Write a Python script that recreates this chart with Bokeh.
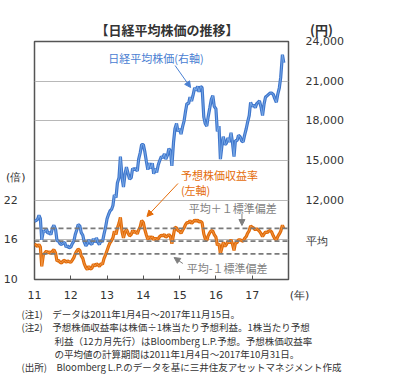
import pandas as pd
from bokeh.plotting import figure
from bokeh.models import (Range1d, LinearAxis, FixedTicker, Label, Arrow, NormalHead,
                          Span, NumeralTickFormatter, ColumnDataSource, Title)
from bokeh.embed import file_html
from bokeh.resources import INLINE

# ---------------- data (semi-monthly readings) ----------------
nikkei = [
    10400, 10450, 10550, 10850, 10600, 9000, 9700, 9600, 9850, 9500, 9550, 9400,
    9900, 10100, 9800, 8950, 8900, 8700, 8650, 8750, 8800, 8450, 8550, 8400,
    8450, 8700, 8900, 9400, 9750, 10150, 10050, 9550, 9350, 8850, 8550, 8700,
    9000, 8750, 8650, 9100, 8800, 9150, 8800, 8650, 8950, 8850, 9450, 9900,
    10600, 10900, 11200, 11300, 11600, 12400, 12200, 13300, 13700, 15300, 13700, 13000,
    14000, 14500, 14000, 13600, 13700, 14400, 14300, 14400, 14200, 15100, 15600, 16200,
    16200, 15700, 14900, 14300, 14800, 14400, 14800, 14000, 14400, 14100, 14700, 15000,
    15300, 15200, 15500, 15100, 15400, 15900, 15700, 14600, 16400, 17400, 17800, 17200,
    17400, 17000, 17600, 18000, 18700, 19300, 19300, 19800, 19500, 19900, 20500, 20300,
    20600, 20200, 20600, 20500, 18300, 17800, 17600, 18300, 19000, 19600, 19900, 19100,
    18900, 17200, 17600, 15100, 16100, 16800, 16200, 16300, 16700, 16400, 17100, 16400,
    15300, 16500, 16500, 16900, 16800, 16500, 16400, 16900, 17400, 17900, 18400, 19400,
    19100, 19200, 19000, 19300, 19400, 19500, 19000, 18400, 19300, 19800, 19900, 20000,
    20100, 20100, 20000, 19700, 19400, 20000, 20500, 21300, 23000, 22400,
]
per = [
    15.4, 15.2, 15.0, 15.3, 14.9, 12.0, 13.8, 14.0, 14.3, 14.0, 14.2, 13.9,
    14.3, 14.5, 14.0, 12.8, 12.9, 12.6, 12.5, 12.8, 12.9, 12.6, 12.8, 12.7,
    12.6, 12.9, 13.3, 13.9, 14.3, 14.6, 14.4, 13.6, 13.2, 12.4, 11.8, 11.5,
    12.0, 11.6, 11.7, 12.3, 12.0, 12.4, 12.2, 12.0, 12.4, 12.3, 13.2, 13.7,
    14.4, 15.0, 15.6, 15.9, 16.3, 17.3, 16.8, 17.8, 18.5, 19.4, 17.2, 16.3,
    17.2, 17.6, 17.0, 16.6, 16.8, 17.4, 17.1, 17.3, 16.9, 17.5, 18.0, 18.9,
    18.6, 17.6, 16.7, 16.1, 16.5, 16.2, 16.5, 16.0, 16.3, 16.0, 16.2, 16.5,
    16.7, 16.6, 16.8, 16.4, 16.6, 16.8, 16.5, 15.4, 16.8, 17.9, 17.8, 17.4,
    17.3, 17.0, 17.5, 17.8, 18.3, 18.6, 18.6, 18.9, 18.5, 18.7, 19.0, 18.8,
    19.0, 18.7, 18.8, 18.6, 16.9, 16.2, 15.9, 16.6, 17.1, 17.4, 17.3, 16.8,
    16.4, 15.2, 15.4, 13.9, 14.8, 15.6, 15.0, 15.3, 15.8, 15.5, 16.0, 15.4,
    14.4, 15.5, 15.6, 16.0, 16.0, 15.9, 15.8, 16.2, 16.5, 17.0, 17.4, 18.1,
    17.9, 17.8, 17.5, 17.7, 17.5, 17.3, 16.9, 16.5, 16.9, 17.2, 17.1, 17.3,
    17.4, 17.2, 16.6, 16.2, 16.0, 16.5, 16.9, 17.3, 18.2, 17.7,
]
per_mean = 15.8
per_sd = 1.93
year_ticks = [2011, 2012, 2013, 2014, 2015, 2016, 2017]
year_labels = ["11", "12", "13", "14", "15", "16", "17"]
left_ticks = [10, 16, 22]
right_ticks = [12000, 15000, 18000, 21000, 24000]
note_lines = [
    "(注1)\u3000データは2011年1月4日～2017年11月15日。",
    "(注2)\u3000予想株価収益率は株価÷1株当たり予想利益。1株当たり予想",
    "利益（12カ月先行）はBloomberg L.P.予想。予想株価収益率",
    "の平均値の計算期間は2011年1月4日～2017年10月31日。",
    "(出所)\u3000Bloomberg L.P.のデータを基に三井住友アセットマネジメント作成",
]
note_x = [21, 21, 54, 54, 21]
note_gap = [4, -9, 4, -9, 2]

dates = pd.date_range("2011-01-01", periods=len(nikkei), freq="SMS")
xs = [d.year + (d.dayofyear - 1) / 365.25 for d in dates]
src = ColumnDataSource(dict(x=xs, nikkei=nikkei, per=per))

JP = "Noto Sans CJK JP"
NUM = "DejaVu Sans"
TXT = "#333333"
BLUE = "#4a80d2"
ORANGE = "#e46c0a"
GRAY = "#7f7f7f"

W, H = 378, 376
FL, FR, FT, FB = 26, 288, 41, 279   # frame in canvas px

p = figure(width=W, height=H, output_backend="svg", toolbar_location=None,
           x_range=Range1d(2011, 2018), y_range=Range1d(10, 46),
           min_border_left=FL, min_border_right=W - FR,
           min_border_top=FT, min_border_bottom=H - FB)
p.outline_line_color = "#555555"
p.outline_line_width = 1.5
p.extra_y_ranges = {"yen": Range1d(6000, 24000)}

# title (with the right-axis unit on the same line)
p.title.text = "【日経平均株価の推移】" + "\u3000" * 6 + "(円)"
p.title.align = "left"
p.title.offset = 61
p.title.standoff = 6
p.title.text_font = JP
p.title.text_font_size = "13px"
p.title.text_font_style = "bold"
p.title.text_color = TXT

# notes below the chart, one title per line
for line, nx, gap in zip(note_lines, note_x, note_gap):
    p.add_layout(Title(text=line, align="left", offset=nx - 34,
                       standoff=gap, vertical_align="top",
                       text_font=JP, text_font_size="9.5px", text_font_style="normal",
                       text_color=TXT), "below")

# x axis
x_over = {t: l for t, l in zip(year_ticks, year_labels)}
x_over[2018] = "\u3000\u3000(年)"
p.xaxis.ticker = FixedTicker(ticks=year_ticks + [2018])
p.xaxis.major_label_overrides = x_over
p.xaxis.axis_line_color = None
p.xaxis.major_tick_in = 4
p.xaxis.major_tick_out = 0
p.xaxis.major_tick_line_color = "#555555"
p.xaxis.minor_tick_line_color = None
p.xaxis.major_label_standoff = 9
p.xaxis.major_label_text_font = NUM
p.xaxis.major_label_text_font_size = "11px"
p.xaxis.major_label_text_color = TXT

# left axis (PER), with unit label
y_over = {t: str(t) + "\u2002\u2009" for t in left_ticks}
y_over[25.5] = "(倍)"
p.yaxis.ticker = FixedTicker(ticks=left_ticks + [25.5])
p.yaxis.major_label_overrides = y_over
p.yaxis.axis_line_color = None
p.yaxis.major_tick_line_color = None
p.yaxis.minor_tick_line_color = None
p.yaxis.major_label_standoff = 3
p.yaxis.major_label_text_font = NUM
p.yaxis.major_label_text_font_size = "11px"
p.yaxis.major_label_text_color = TXT

# right axis (yen), with the mean label
mean_yen = 6000 + (per_mean - 10) * 500
ra = LinearAxis(y_range_name="yen", ticker=FixedTicker(ticks=right_ticks + [mean_yen]),
                formatter=NumeralTickFormatter(format="0,0"))
ra.major_label_overrides = {mean_yen: "平均"}
ra.axis_line_color = None
ra.major_tick_line_color = None
ra.minor_tick_line_color = None
ra.major_label_standoff = 11
ra.major_label_text_font = NUM
ra.major_label_text_font_size = "11px"
ra.major_label_text_color = TXT
p.add_layout(ra, "right")

p.xgrid.grid_line_color = None
p.ygrid.ticker = FixedTicker(ticks=[16, 22, 28, 34, 40])
p.ygrid.grid_line_color = "#b8b8b8"

p.line("x", "nikkei", source=src, y_range_name="yen", line_color="#3f76cc", line_width=3.2)
p.line("x", "nikkei", source=src, y_range_name="yen", line_color="#8dbaf0", line_width=1, line_alpha=0.7)
for loc in (per_mean + per_sd, per_mean, per_mean - per_sd):
    p.add_layout(Span(location=loc, dimension="width", line_color="#7a7a7a",
                      line_dash="5 3", line_width=1.8))
p.line("x", "per", source=src, line_color="#e06a08", line_width=3.2)
p.line("x", "per", source=src, line_color="#f7a458", line_width=1, line_alpha=0.7)


def X(px):
    return 2011 + (px - 8 - FL) / ((FR - FL) / 7)


def Y(py):
    return 10 + (FB - py) / ((FB - FT) / 36)


def lab(px, py, text, color=TXT, size="11px"):
    p.add_layout(Label(x=X(px), y=Y(py), text=text, text_color=color, text_font=JP,
                       text_font_size=size, text_baseline="middle"))


def arrow(x0, y0, x1, y1, color):
    p.add_layout(Arrow(end=NormalHead(size=6, fill_color=color, line_color=color),
                       x_start=X(x0), y_start=Y(y0), x_end=X(x1), y_end=Y(y1),
                       line_color=color, line_width=1))


lab(110, 57, "日経平均株価(右軸)", color=BLUE)
arrow(179, 65, 195, 87, BLUE)
lab(185, 174, "予想株価収益率", color=ORANGE)
lab(185, 189, "(左軸)", color=ORANGE)
arrow(182, 183, 150, 216, ORANGE)
lab(193, 207, "平均＋１標準偏差", color=GRAY)
arrow(248, 213, 248, 225, GRAY)
lab(191, 267, "平均-１標準偏差", color=GRAY)
arrow(187, 263, 178, 257, GRAY)

open("out.html", "w").write(file_html(p, INLINE))
